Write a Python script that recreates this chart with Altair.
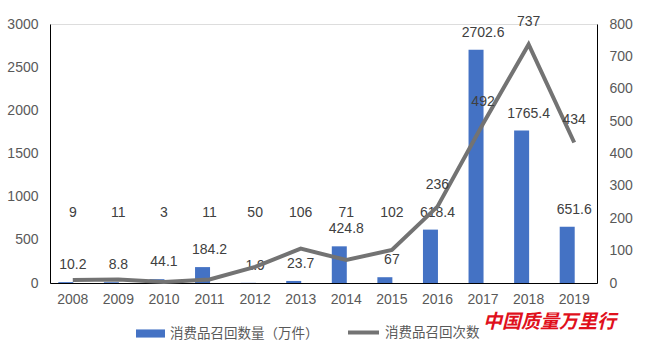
import altair as alt
import pandas as pd

years = ["2008", "2009", "2010", "2011", "2012", "2013", "2014", "2015", "2016", "2017", "2018", "2019"]
recall_qty = [10.2, 8.8, 44.1, 184.2, 1.9, 23.7, 424.8, 67, 618.4, 2702.6, 1765.4, 651.6]
recall_times = [9, 11, 3, 11, 50, 106, 71, 102, 236, 492, 737, 434]

bar_name = "消费品召回数量（万件）"
line_name = "消费品召回次数"

df = pd.DataFrame({
    "year": years,
    "qty": recall_qty,
    "times": recall_times,
    "qty_label": [f"{v:g}" for v in recall_qty],
    "times_label": [f"{v:g}" for v in recall_times],
    "bar_series": [bar_name] * len(years),
    "line_series": [line_name] * len(years),
})

NUM_FONT = "Liberation Sans"
CJK_FONT = "Noto Sans CJK SC"
AX_COLOR = "#595959"
LBL_COLOR = "#404040"

x_enc = alt.X(
    "year:N",
    sort=years,
    title=None,
    scale=alt.Scale(paddingInner=0, paddingOuter=0),
    axis=alt.Axis(labelAngle=0, ticks=False, domainColor="black", domainWidth=1,
                  labelFont=NUM_FONT, labelFontSize=14, labelColor=AX_COLOR,
                  labelPadding=9, grid=False),
)

left_axis = alt.Axis(values=[0, 500, 1000, 1500, 2000, 2500, 3000], ticks=False,
                     format="d", domainColor="black", domainWidth=1, grid=False,
                     labelFont=NUM_FONT, labelFontSize=14, labelColor=AX_COLOR,
                     labelPadding=12, orient="left")
right_axis = alt.Axis(values=[0, 100, 200, 300, 400, 500, 600, 700, 800], ticks=False,
                      format="d", domainColor="black", domainWidth=1, grid=False,
                      labelFont=NUM_FONT, labelFontSize=14, labelColor=AX_COLOR,
                      labelPadding=12, orient="right")
left_scale = alt.Scale(domain=[0, 3000], nice=False)
right_scale = alt.Scale(domain=[0, 800], nice=False)

left_base = alt.Chart(df).encode(x=x_enc, y=alt.Y("qty:Q", title=None, scale=left_scale, axis=left_axis))
bars = left_base.mark_bar(width=15, xOffset=-7).encode(
    fill=alt.Fill(
        "bar_series:N",
        scale=alt.Scale(domain=[bar_name], range=["#4472C4"]),
        legend=alt.Legend(
            title=None, orient="none", legendX=86, legendY=295, padding=0,
            symbolType="M-1,-0.28L1,-0.28L1,0.28L-1,0.28Z", symbolSize=841,
            symbolStrokeWidth=0, labelFont=CJK_FONT, labelFontSize=13.5,
            labelColor=AX_COLOR, labelOffset=5,
        ),
    )
)
bar_text = left_base.mark_text(dy=-17, font=NUM_FONT, fontSize=14, color=LBL_COLOR).encode(
    text="qty_label:N"
)

right_base = alt.Chart(df).encode(x=x_enc)
line = right_base.mark_line(strokeWidth=4).encode(
    y=alt.Y("times:Q", title=None, scale=right_scale, axis=right_axis),
    stroke=alt.Stroke(
        "line_series:N",
        scale=alt.Scale(domain=[line_name], range=["#737373"]),
        legend=alt.Legend(
            title=None, orient="none", legendX=296, legendY=291, padding=0,
            symbolType="stroke", symbolSize=961, symbolStrokeWidth=4,
            labelFont=CJK_FONT, labelFontSize=13.5, labelColor=AX_COLOR,
            labelOffset=4,
        ),
    )
)
# labels sit ~22px above each point, but never lower than a common row near the base
line_text = right_base.transform_calculate(
    label_pos="max(datum.times + 68, 215)"
).mark_text(font=NUM_FONT, fontSize=14, color=LBL_COLOR).encode(
    y=alt.Y("label_pos:Q", title=None, scale=right_scale, axis=right_axis),
    text="times_label:N",
)

watermark = alt.Chart(pd.DataFrame({"t": ["中国质量万里行"]})).mark_text(
    font=CJK_FONT, fontSize=19, fontWeight="bold", color="#e0101c",
    fontStyle="italic", align="left", baseline="middle",
).encode(text="t:N", x=alt.value(433), y=alt.value(298))

left = alt.layer(bars, bar_text)
right = alt.layer(line, line_text)

chart = alt.layer(left, right, watermark).resolve_scale(
    y="independent", fill="independent", stroke="independent"
).properties(
    width=547, height=259,
    autosize=alt.AutoSizeParams(type="none"),
    padding={"left": 50, "top": 24, "right": 59, "bottom": 68},
).configure_view(stroke=None).configure(background="white")

chart.save("out.html", embed_options={"renderer": "svg", "actions": False})
